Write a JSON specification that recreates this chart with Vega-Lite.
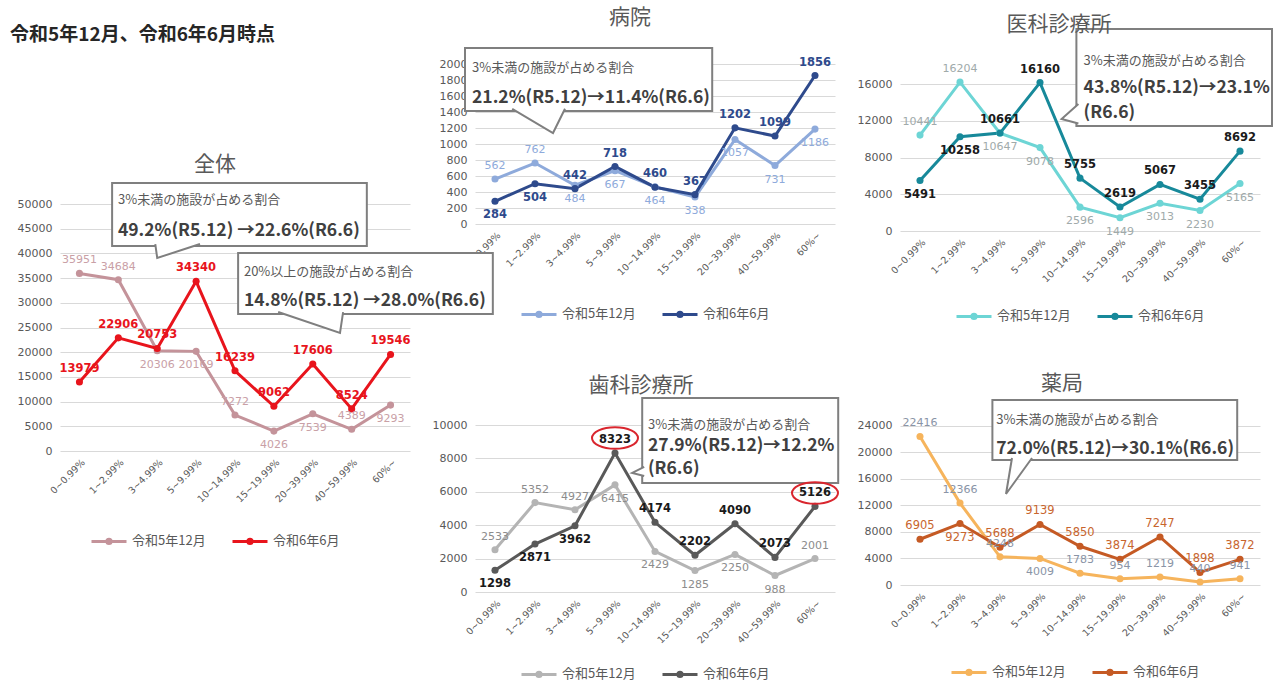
{
"$schema": "https://vega.github.io/schema/vega-lite/v6.json",
"background": "white",
"padding": {"left": 10, "top": 6, "right": 0, "bottom": 0},
"title": {"text": "令和5年12月、令和6年6月時点", "anchor": "start", "frame": "bounds", "dx": -7, "offset": -38, "fontSize": 19, "fontWeight": "bold", "color": "#262626", "font": "Noto Sans CJK JP"},
"config": {
  "view": {"stroke": null},
  "axis": {"labelFont": "DejaVu Sans", "labelColor": "#595959", "gridColor": "#d9d9d9", "domain": false, "ticks": false},
  "axisX": {"grid": false, "labelAngle": -45, "labelFontSize": 9.5, "labelPadding": 6},
  "axisY": {"labelFontSize": 11, "labelPadding": 8},
  "title": {"fontSize": 21, "fontWeight": "normal", "color": "#595959", "font": "Noto Sans CJK JP", "frame": "group", "anchor": "middle"},
  "legend": {"direction": "horizontal", "title": null, "labelFontSize": 13, "labelColor": "#595959", "labelFont": "Noto Sans CJK JP", "symbolType": "M-1,0L1,0M0.12,0A0.12,0.12,0,1,1,-0.12,0A0.12,0.12,0,1,1,0.12,0", "symbolSize": 1225, "symbolStrokeWidth": 3, "columnPadding": 20},
  "text": {"font": "DejaVu Sans"}
},
"datasets": {
  "d": [
    {"panel":"全体","cat":"0~0.99%","series":"令和5年12月","value":35951},
    {"panel":"全体","cat":"1~2.99%","series":"令和5年12月","value":34684},
    {"panel":"全体","cat":"3~4.99%","series":"令和5年12月","value":20306},
    {"panel":"全体","cat":"5~9.99%","series":"令和5年12月","value":20169},
    {"panel":"全体","cat":"10~14.99%","series":"令和5年12月","value":7272},
    {"panel":"全体","cat":"15~19.99%","series":"令和5年12月","value":4026},
    {"panel":"全体","cat":"20~39.99%","series":"令和5年12月","value":7539},
    {"panel":"全体","cat":"40~59.99%","series":"令和5年12月","value":4389},
    {"panel":"全体","cat":"60%~","series":"令和5年12月","value":9293},
    {"panel":"全体","cat":"0~0.99%","series":"令和6年6月","value":13979},
    {"panel":"全体","cat":"1~2.99%","series":"令和6年6月","value":22906},
    {"panel":"全体","cat":"3~4.99%","series":"令和6年6月","value":20753},
    {"panel":"全体","cat":"5~9.99%","series":"令和6年6月","value":34340},
    {"panel":"全体","cat":"10~14.99%","series":"令和6年6月","value":16239},
    {"panel":"全体","cat":"15~19.99%","series":"令和6年6月","value":9062},
    {"panel":"全体","cat":"20~39.99%","series":"令和6年6月","value":17606},
    {"panel":"全体","cat":"40~59.99%","series":"令和6年6月","value":8524},
    {"panel":"全体","cat":"60%~","series":"令和6年6月","value":19546},
    {"panel":"病院","cat":"0~0.99%","series":"令和5年12月","value":562},
    {"panel":"病院","cat":"1~2.99%","series":"令和5年12月","value":762},
    {"panel":"病院","cat":"3~4.99%","series":"令和5年12月","value":484},
    {"panel":"病院","cat":"5~9.99%","series":"令和5年12月","value":667},
    {"panel":"病院","cat":"10~14.99%","series":"令和5年12月","value":464},
    {"panel":"病院","cat":"15~19.99%","series":"令和5年12月","value":338},
    {"panel":"病院","cat":"20~39.99%","series":"令和5年12月","value":1057},
    {"panel":"病院","cat":"40~59.99%","series":"令和5年12月","value":731},
    {"panel":"病院","cat":"60%~","series":"令和5年12月","value":1186},
    {"panel":"病院","cat":"0~0.99%","series":"令和6年6月","value":284},
    {"panel":"病院","cat":"1~2.99%","series":"令和6年6月","value":504},
    {"panel":"病院","cat":"3~4.99%","series":"令和6年6月","value":442},
    {"panel":"病院","cat":"5~9.99%","series":"令和6年6月","value":718},
    {"panel":"病院","cat":"10~14.99%","series":"令和6年6月","value":460},
    {"panel":"病院","cat":"15~19.99%","series":"令和6年6月","value":367},
    {"panel":"病院","cat":"20~39.99%","series":"令和6年6月","value":1202},
    {"panel":"病院","cat":"40~59.99%","series":"令和6年6月","value":1099},
    {"panel":"病院","cat":"60%~","series":"令和6年6月","value":1856},
    {"panel":"医科","cat":"0~0.99%","series":"令和5年12月","value":10441},
    {"panel":"医科","cat":"1~2.99%","series":"令和5年12月","value":16204},
    {"panel":"医科","cat":"3~4.99%","series":"令和5年12月","value":10647},
    {"panel":"医科","cat":"5~9.99%","series":"令和5年12月","value":9078},
    {"panel":"医科","cat":"10~14.99%","series":"令和5年12月","value":2596},
    {"panel":"医科","cat":"15~19.99%","series":"令和5年12月","value":1449},
    {"panel":"医科","cat":"20~39.99%","series":"令和5年12月","value":3013},
    {"panel":"医科","cat":"40~59.99%","series":"令和5年12月","value":2230},
    {"panel":"医科","cat":"60%~","series":"令和5年12月","value":5165},
    {"panel":"医科","cat":"0~0.99%","series":"令和6年6月","value":5491},
    {"panel":"医科","cat":"1~2.99%","series":"令和6年6月","value":10258},
    {"panel":"医科","cat":"3~4.99%","series":"令和6年6月","value":10661},
    {"panel":"医科","cat":"5~9.99%","series":"令和6年6月","value":16160},
    {"panel":"医科","cat":"10~14.99%","series":"令和6年6月","value":5755},
    {"panel":"医科","cat":"15~19.99%","series":"令和6年6月","value":2619},
    {"panel":"医科","cat":"20~39.99%","series":"令和6年6月","value":5067},
    {"panel":"医科","cat":"40~59.99%","series":"令和6年6月","value":3455},
    {"panel":"医科","cat":"60%~","series":"令和6年6月","value":8692},
    {"panel":"歯科","cat":"0~0.99%","series":"令和5年12月","value":2533},
    {"panel":"歯科","cat":"1~2.99%","series":"令和5年12月","value":5352},
    {"panel":"歯科","cat":"3~4.99%","series":"令和5年12月","value":4927},
    {"panel":"歯科","cat":"5~9.99%","series":"令和5年12月","value":6415},
    {"panel":"歯科","cat":"10~14.99%","series":"令和5年12月","value":2429},
    {"panel":"歯科","cat":"15~19.99%","series":"令和5年12月","value":1285},
    {"panel":"歯科","cat":"20~39.99%","series":"令和5年12月","value":2250},
    {"panel":"歯科","cat":"40~59.99%","series":"令和5年12月","value":988},
    {"panel":"歯科","cat":"60%~","series":"令和5年12月","value":2001},
    {"panel":"歯科","cat":"0~0.99%","series":"令和6年6月","value":1298},
    {"panel":"歯科","cat":"1~2.99%","series":"令和6年6月","value":2871},
    {"panel":"歯科","cat":"3~4.99%","series":"令和6年6月","value":3962},
    {"panel":"歯科","cat":"5~9.99%","series":"令和6年6月","value":8323},
    {"panel":"歯科","cat":"10~14.99%","series":"令和6年6月","value":4174},
    {"panel":"歯科","cat":"15~19.99%","series":"令和6年6月","value":2202},
    {"panel":"歯科","cat":"20~39.99%","series":"令和6年6月","value":4090},
    {"panel":"歯科","cat":"40~59.99%","series":"令和6年6月","value":2073},
    {"panel":"歯科","cat":"60%~","series":"令和6年6月","value":5126},
    {"panel":"薬局","cat":"0~0.99%","series":"令和5年12月","value":22416},
    {"panel":"薬局","cat":"1~2.99%","series":"令和5年12月","value":12366},
    {"panel":"薬局","cat":"3~4.99%","series":"令和5年12月","value":4248},
    {"panel":"薬局","cat":"5~9.99%","series":"令和5年12月","value":4009},
    {"panel":"薬局","cat":"10~14.99%","series":"令和5年12月","value":1783},
    {"panel":"薬局","cat":"15~19.99%","series":"令和5年12月","value":954},
    {"panel":"薬局","cat":"20~39.99%","series":"令和5年12月","value":1219},
    {"panel":"薬局","cat":"40~59.99%","series":"令和5年12月","value":440},
    {"panel":"薬局","cat":"60%~","series":"令和5年12月","value":941},
    {"panel":"薬局","cat":"0~0.99%","series":"令和6年6月","value":6905},
    {"panel":"薬局","cat":"1~2.99%","series":"令和6年6月","value":9273},
    {"panel":"薬局","cat":"3~4.99%","series":"令和6年6月","value":5688},
    {"panel":"薬局","cat":"5~9.99%","series":"令和6年6月","value":9139},
    {"panel":"薬局","cat":"10~14.99%","series":"令和6年6月","value":5850},
    {"panel":"薬局","cat":"15~19.99%","series":"令和6年6月","value":3874},
    {"panel":"薬局","cat":"20~39.99%","series":"令和6年6月","value":7247},
    {"panel":"薬局","cat":"40~59.99%","series":"令和6年6月","value":1898},
    {"panel":"薬局","cat":"60%~","series":"令和6年6月","value":3872}
  ],
  "box": [
    {"panel":"全体","x1":0.84,"x2":7.39,"value":54250,"value2":41500},
    {"panel":"全体","x1":4.08,"x2":10.63,"value":40080,"value2":27730},
    {"panel":"病院","x1":-0.75,"x2":5.43,"value":2200,"value2":1412},
    {"panel":"医科","x1":3.91,"x2":8.8,"value":21990,"value2":11430},
    {"panel":"歯科","x1":3.68,"x2":8.58,"value":11620,"value2":6530},
    {"panel":"薬局","x1":1.81,"x2":7.93,"value":27930,"value2":18870}
  ],
  "tail": [
    {"panel":"全体","tid":1,"seq":1,"x":1.95,"value":41900},
    {"panel":"全体","tid":1,"seq":2,"x":2.0,"value":39070},
    {"panel":"全体","tid":1,"seq":3,"x":3.1,"value":41900},
    {"panel":"全体","tid":2,"seq":1,"x":5.11,"value":28130},
    {"panel":"全体","tid":2,"seq":2,"x":6.7,"value":23890},
    {"panel":"全体","tid":2,"seq":3,"x":6.78,"value":28130},
    {"panel":"病院","tid":1,"seq":1,"x":0.43,"value":1440},
    {"panel":"病院","tid":1,"seq":2,"x":1.45,"value":1137},
    {"panel":"病院","tid":1,"seq":3,"x":1.75,"value":1440},
    {"panel":"医科","tid":1,"seq":1,"x":3.96,"value":13820},
    {"panel":"医科","tid":1,"seq":2,"x":3.54,"value":12190},
    {"panel":"医科","tid":1,"seq":3,"x":3.96,"value":11700},
    {"panel":"歯科","tid":1,"seq":1,"x":3.73,"value":7490},
    {"panel":"歯科","tid":1,"seq":2,"x":3.43,"value":7130},
    {"panel":"歯科","tid":1,"seq":3,"x":3.73,"value":6950},
    {"panel":"薬局","tid":1,"seq":1,"x":2.3,"value":19170},
    {"panel":"薬局","tid":1,"seq":2,"x":2.15,"value":13740},
    {"panel":"薬局","tid":1,"seq":3,"x":2.8,"value":19170}
  ],
  "note": [
    {"panel":"全体","kind":"head","x":0.99,"value":50810,"text":"3%未満の施設が占める割合"},
    {"panel":"全体","kind":"main","x":0.99,"value":44534,"text":"49.2%(R5.12) →22.6%(R6.6)"},
    {"panel":"全体","kind":"head","x":4.23,"value":36235,"text":"20%以上の施設が占める割合"},
    {"panel":"全体","kind":"main","x":4.23,"value":30364,"text":"14.8%(R5.12) →28.0%(R6.6)"},
    {"panel":"病院","kind":"head","x":-0.575,"value":1950,"text":"3%未満の施設が占める割合"},
    {"panel":"病院","kind":"main","x":-0.575,"value":1575,"text":"21.2%(R5.12)→11.4%(R6.6)"},
    {"panel":"医科","kind":"head","x":4.09,"value":18503,"text":"3%未満の施設が占める割合"},
    {"panel":"医科","kind":"main","x":4.09,"value":15565,"text":"43.8%(R5.12)→23.1%"},
    {"panel":"医科","kind":"main","x":4.09,"value":12843,"text":"(R6.6)"},
    {"panel":"歯科","kind":"head","x":3.825,"value":10000,"text":"3%未満の施設が占める割合"},
    {"panel":"歯科","kind":"main","x":3.825,"value":8743,"text":"27.9%(R5.12)→12.2%"},
    {"panel":"歯科","kind":"main","x":3.825,"value":7365,"text":"(R6.6)"},
    {"panel":"薬局","kind":"head","x":1.905,"value":24906,"text":"3%未満の施設が占める割合"},
    {"panel":"薬局","kind":"main","x":1.905,"value":20528,"text":"72.0%(R5.12)→30.1%(R6.6)"}
  ],
  "ring": [
    {"panel":"歯科","x":3,"value":9222},
    {"panel":"歯科","x":8,"value":5928}
  ]
},
"columns": 3,
"align": "none",
"bounds": "flush",
"spacing": {"row": -27, "column": 65},
"resolve": {"scale": {"color": "independent"}, "legend": {"color": "independent"}},
"concat": [
  {
    "width": 350, "height": 10,
    "data": {"values": []},
    "mark": "point"
  },
  {
    "width": 360, "height": 160,
    "title": {"text": "病院", "dx": -25, "offset": 19},
    "encoding": {"y": {"field": "value", "type": "quantitative", "title": null, "scale": {"domain": [0, 2000], "nice": false}, "axis": {"format": "d", "values": [0,200,400,600,800,1000,1200,1400,1600,1800,2000]}}},
    "resolve": {"scale": {"x": "independent"}},
    "layer": [
      {
        "data": {"name": "d"},
        "transform": [{"filter": "datum.panel === '病院'"}],
        "encoding": {"x": {"field": "cat", "type": "ordinal", "title": null, "scale": {"type": "point", "padding": 0.5, "domain": ["0~0.99%","1~2.99%","3~4.99%","5~9.99%","10~14.99%","15~19.99%","20~39.99%","40~59.99%","60%~"]}}},
        "layer": [
          {"mark": {"type": "line", "strokeWidth": 3, "point": {"filled": true, "size": 50}},
           "encoding": {"color": {"field": "series", "type": "nominal", "scale": {"domain": ["令和5年12月","令和6年6月"], "range": ["#8eaadb","#2e4a8c"]}, "legend": {"orient": "none", "legendX": 45, "legendY": 231}}}},
          {"transform": [{"filter": "datum.series === '令和5年12月' && indexof(['0~0.99%','1~2.99%'], datum.cat) >= 0"}],
           "mark": {"type": "text", "dy": -13, "fontSize": 11, "color": "#8eaadb"}, "encoding": {"text": {"field": "value", "type": "quantitative", "format": "d"}}},
          {"transform": [{"filter": "datum.series === '令和5年12月' && indexof(['0~0.99%','1~2.99%'], datum.cat) < 0"}],
           "mark": {"type": "text", "dy": 14, "fontSize": 11, "color": "#8eaadb"}, "encoding": {"text": {"field": "value", "type": "quantitative", "format": "d"}}},
          {"transform": [{"filter": "datum.series === '令和6年6月' && indexof(['0~0.99%','1~2.99%'], datum.cat) < 0"}],
           "mark": {"type": "text", "dy": -13, "fontSize": 11.5, "fontWeight": "bold", "color": "#2e4a8c"}, "encoding": {"text": {"field": "value", "type": "quantitative", "format": "d"}}},
          {"transform": [{"filter": "datum.series === '令和6年6月' && indexof(['0~0.99%','1~2.99%'], datum.cat) >= 0"}],
           "mark": {"type": "text", "dy": 14, "fontSize": 11.5, "fontWeight": "bold", "color": "#2e4a8c"}, "encoding": {"text": {"field": "value", "type": "quantitative", "format": "d"}}}
        ]
      },
      {"data": {"name": "box"}, "transform": [{"filter": "datum.panel === '病院'"}],
       "mark": {"type": "rect", "fill": "white", "stroke": "#7f7f7f", "strokeWidth": 2},
       "encoding": {"x": {"field": "x1", "type": "quantitative", "scale": {"domain": [-0.5, 8.5], "nice": false, "zero": false}, "axis": null}, "x2": {"field": "x2"}, "y2": {"field": "value2"}}},
      {"data": {"name": "tail"}, "transform": [{"filter": "datum.panel === '病院'"}],
       "mark": {"type": "line", "fill": "white", "stroke": "#7f7f7f", "strokeWidth": 2},
       "encoding": {"x": {"field": "x", "type": "quantitative", "scale": {"domain": [-0.5, 8.5], "nice": false, "zero": false}, "axis": null}, "detail": {"field": "tid"}, "order": {"field": "seq"}}},
      {"data": {"name": "note"}, "transform": [{"filter": "datum.panel === '病院' && datum.kind === 'head'"}],
       "mark": {"type": "text", "align": "left", "font": "Noto Sans CJK JP", "fontSize": 13, "color": "#595959"},
       "encoding": {"x": {"field": "x", "type": "quantitative", "scale": {"domain": [-0.5, 8.5], "nice": false, "zero": false}, "axis": null}, "text": {"field": "text"}}},
      {"data": {"name": "note"}, "transform": [{"filter": "datum.panel === '病院' && datum.kind === 'main'"}],
       "mark": {"type": "text", "align": "left", "font": "Noto Sans CJK JP", "fontSize": 17.5, "fontWeight": "bold", "color": "#404040"},
       "encoding": {"x": {"field": "x", "type": "quantitative", "scale": {"domain": [-0.5, 8.5], "nice": false, "zero": false}, "axis": null}, "text": {"field": "text"}}}
    ]
  },
  {
    "width": 360, "height": 167,
    "title": {"text": "医科診療所", "dx": -21, "offset": -7},
    "encoding": {"y": {"field": "value", "type": "quantitative", "title": null, "scale": {"domain": [0, 18180], "nice": false}, "axis": {"format": "d", "values": [0,4000,8000,12000,16000]}}},
    "resolve": {"scale": {"x": "independent"}},
    "layer": [
      {
        "data": {"name": "d"},
        "transform": [{"filter": "datum.panel === '医科'"}],
        "encoding": {"x": {"field": "cat", "type": "ordinal", "title": null, "scale": {"type": "point", "padding": 0.5, "domain": ["0~0.99%","1~2.99%","3~4.99%","5~9.99%","10~14.99%","15~19.99%","20~39.99%","40~59.99%","60%~"]}}},
        "layer": [
          {"mark": {"type": "line", "strokeWidth": 3, "point": {"filled": true, "size": 50}},
           "encoding": {"color": {"field": "series", "type": "nominal", "scale": {"domain": ["令和5年12月","令和6年6月"], "range": ["#6dd5d5","#17899a"]}, "legend": {"orient": "none", "legendX": 55, "legendY": 233}}}},
          {"transform": [{"filter": "datum.series === '令和5年12月' && indexof(['0~0.99%','1~2.99%'], datum.cat) >= 0"}],
           "mark": {"type": "text", "dy": -13, "fontSize": 11, "color": "#a0aaaa"}, "encoding": {"text": {"field": "value", "type": "quantitative", "format": "d"}}},
          {"transform": [{"filter": "datum.series === '令和5年12月' && indexof(['0~0.99%','1~2.99%'], datum.cat) < 0"}],
           "mark": {"type": "text", "dy": 14, "fontSize": 11, "color": "#a0aaaa"}, "encoding": {"text": {"field": "value", "type": "quantitative", "format": "d"}}},
          {"transform": [{"filter": "datum.series === '令和6年6月' && indexof(['0~0.99%','1~2.99%'], datum.cat) < 0"}],
           "mark": {"type": "text", "dy": -13, "fontSize": 11.5, "fontWeight": "bold", "color": "#1a1a1a"}, "encoding": {"text": {"field": "value", "type": "quantitative", "format": "d"}}},
          {"transform": [{"filter": "datum.series === '令和6年6月' && indexof(['0~0.99%','1~2.99%'], datum.cat) >= 0"}],
           "mark": {"type": "text", "dy": 14, "fontSize": 11.5, "fontWeight": "bold", "color": "#1a1a1a"}, "encoding": {"text": {"field": "value", "type": "quantitative", "format": "d"}}}
        ]
      },
      {"data": {"name": "box"}, "transform": [{"filter": "datum.panel === '医科'"}],
       "mark": {"type": "rect", "fill": "white", "stroke": "#7f7f7f", "strokeWidth": 2},
       "encoding": {"x": {"field": "x1", "type": "quantitative", "scale": {"domain": [-0.5, 8.5], "nice": false, "zero": false}, "axis": null}, "x2": {"field": "x2"}, "y2": {"field": "value2"}}},
      {"data": {"name": "tail"}, "transform": [{"filter": "datum.panel === '医科'"}],
       "mark": {"type": "line", "fill": "white", "stroke": "#7f7f7f", "strokeWidth": 2},
       "encoding": {"x": {"field": "x", "type": "quantitative", "scale": {"domain": [-0.5, 8.5], "nice": false, "zero": false}, "axis": null}, "detail": {"field": "tid"}, "order": {"field": "seq"}}},
      {"data": {"name": "note"}, "transform": [{"filter": "datum.panel === '医科' && datum.kind === 'head'"}],
       "mark": {"type": "text", "align": "left", "font": "Noto Sans CJK JP", "fontSize": 13, "color": "#595959"},
       "encoding": {"x": {"field": "x", "type": "quantitative", "scale": {"domain": [-0.5, 8.5], "nice": false, "zero": false}, "axis": null}, "text": {"field": "text"}}},
      {"data": {"name": "note"}, "transform": [{"filter": "datum.panel === '医科' && datum.kind === 'main'"}],
       "mark": {"type": "text", "align": "left", "font": "Noto Sans CJK JP", "fontSize": 17.5, "fontWeight": "bold", "color": "#404040"},
       "encoding": {"x": {"field": "x", "type": "quantitative", "scale": {"domain": [-0.5, 8.5], "nice": false, "zero": false}, "axis": null}, "text": {"field": "text"}}}
    ]
  },
  {
    "width": 350, "height": 247,
    "title": {"text": "全体", "dx": -20, "offset": 7},
    "encoding": {"y": {"field": "value", "type": "quantitative", "title": null, "scale": {"domain": [0, 50000], "nice": false}, "axis": {"format": "d", "values": [0,5000,10000,15000,20000,25000,30000,35000,40000,45000,50000]}}},
    "resolve": {"scale": {"x": "independent"}},
    "layer": [
      {
        "data": {"name": "d"},
        "transform": [{"filter": "datum.panel === '全体'"}],
        "encoding": {"x": {"field": "cat", "type": "ordinal", "title": null, "scale": {"type": "point", "padding": 0.5, "domain": ["0~0.99%","1~2.99%","3~4.99%","5~9.99%","10~14.99%","15~19.99%","20~39.99%","40~59.99%","60%~"]}}},
        "layer": [
          {"mark": {"type": "line", "strokeWidth": 3, "point": {"filled": true, "size": 50}},
           "encoding": {"color": {"field": "series", "type": "nominal", "scale": {"domain": ["令和5年12月","令和6年6月"], "range": ["#c4939a","#e8141c"]}, "legend": {"orient": "none", "legendX": 30, "legendY": 318}}}},
          {"transform": [{"filter": "datum.series === '令和5年12月' && indexof(['3~4.99%','5~9.99%','15~19.99%','20~39.99%','60%~'], datum.cat) < 0"}],
           "mark": {"type": "text", "dy": -13, "fontSize": 11, "color": "#c9a0a6"}, "encoding": {"text": {"field": "value", "type": "quantitative", "format": "d"}}},
          {"transform": [{"filter": "datum.series === '令和5年12月' && indexof(['3~4.99%','5~9.99%','15~19.99%','20~39.99%','60%~'], datum.cat) >= 0"}],
           "mark": {"type": "text", "dy": 14, "fontSize": 11, "color": "#c9a0a6"}, "encoding": {"text": {"field": "value", "type": "quantitative", "format": "d"}}},
          {"transform": [{"filter": "datum.series === '令和6年6月'"}],
           "mark": {"type": "text", "dy": -13, "fontSize": 11.5, "fontWeight": "bold", "color": "#e8141c"}, "encoding": {"text": {"field": "value", "type": "quantitative", "format": "d"}}}
        ]
      },
      {"data": {"name": "box"}, "transform": [{"filter": "datum.panel === '全体'"}],
       "mark": {"type": "rect", "fill": "white", "stroke": "#7f7f7f", "strokeWidth": 2},
       "encoding": {"x": {"field": "x1", "type": "quantitative", "scale": {"domain": [-0.5, 8.5], "nice": false, "zero": false}, "axis": null}, "x2": {"field": "x2"}, "y2": {"field": "value2"}}},
      {"data": {"name": "tail"}, "transform": [{"filter": "datum.panel === '全体'"}],
       "mark": {"type": "line", "fill": "white", "stroke": "#7f7f7f", "strokeWidth": 2},
       "encoding": {"x": {"field": "x", "type": "quantitative", "scale": {"domain": [-0.5, 8.5], "nice": false, "zero": false}, "axis": null}, "detail": {"field": "tid"}, "order": {"field": "seq"}}},
      {"data": {"name": "note"}, "transform": [{"filter": "datum.panel === '全体' && datum.kind === 'head'"}],
       "mark": {"type": "text", "align": "left", "font": "Noto Sans CJK JP", "fontSize": 13, "color": "#595959"},
       "encoding": {"x": {"field": "x", "type": "quantitative", "scale": {"domain": [-0.5, 8.5], "nice": false, "zero": false}, "axis": null}, "text": {"field": "text"}}},
      {"data": {"name": "note"}, "transform": [{"filter": "datum.panel === '全体' && datum.kind === 'main'"}],
       "mark": {"type": "text", "align": "left", "font": "Noto Sans CJK JP", "fontSize": 17.5, "fontWeight": "bold", "color": "#404040"},
       "encoding": {"x": {"field": "x", "type": "quantitative", "scale": {"domain": [-0.5, 8.5], "nice": false, "zero": false}, "axis": null}, "text": {"field": "text"}}}
    ]
  },
  {
    "width": 360, "height": 388,
    "title": {"text": "歯科診療所", "dx": -14, "offset": -192},
    "encoding": {"y": {"field": "value", "type": "quantitative", "title": null, "scale": {"domain": [0, 23234], "nice": false}, "axis": {"format": "d", "values": [0,2000,4000,6000,8000,10000]}}},
    "resolve": {"scale": {"x": "independent"}},
    "layer": [
      {
        "data": {"name": "d"},
        "transform": [{"filter": "datum.panel === '歯科'"}],
        "encoding": {"x": {"field": "cat", "type": "ordinal", "title": null, "scale": {"type": "point", "padding": 0.5, "domain": ["0~0.99%","1~2.99%","3~4.99%","5~9.99%","10~14.99%","15~19.99%","20~39.99%","40~59.99%","60%~"]}}},
        "layer": [
          {"mark": {"type": "line", "strokeWidth": 3, "point": {"filled": true, "size": 50}},
           "encoding": {"color": {"field": "series", "type": "nominal", "scale": {"domain": ["令和5年12月","令和6年6月"], "range": ["#b4b4b4","#595959"]}, "legend": {"orient": "none", "legendX": 45, "legendY": 451}}}},
          {"transform": [{"filter": "datum.series === '令和5年12月' && indexof(['5~9.99%','10~14.99%','15~19.99%','20~39.99%','40~59.99%'], datum.cat) < 0"}],
           "mark": {"type": "text", "dy": -13, "fontSize": 11, "color": "#8c8c8c"}, "encoding": {"text": {"field": "value", "type": "quantitative", "format": "d"}}},
          {"transform": [{"filter": "datum.series === '令和5年12月' && indexof(['5~9.99%','10~14.99%','15~19.99%','20~39.99%','40~59.99%'], datum.cat) >= 0"}],
           "mark": {"type": "text", "dy": 14, "fontSize": 11, "color": "#8c8c8c"}, "encoding": {"text": {"field": "value", "type": "quantitative", "format": "d"}}},
          {"transform": [{"filter": "datum.series === '令和6年6月' && indexof(['0~0.99%','1~2.99%','3~4.99%'], datum.cat) < 0"}],
           "mark": {"type": "text", "dy": -13, "fontSize": 11.5, "fontWeight": "bold", "color": "#1a1a1a"}, "encoding": {"text": {"field": "value", "type": "quantitative", "format": "d"}}},
          {"transform": [{"filter": "datum.series === '令和6年6月' && indexof(['0~0.99%','1~2.99%','3~4.99%'], datum.cat) >= 0"}],
           "mark": {"type": "text", "dy": 14, "fontSize": 11.5, "fontWeight": "bold", "color": "#1a1a1a"}, "encoding": {"text": {"field": "value", "type": "quantitative", "format": "d"}}}
        ]
      },
      {"data": {"name": "box"}, "transform": [{"filter": "datum.panel === '歯科'"}],
       "mark": {"type": "rect", "fill": "white", "stroke": "#7f7f7f", "strokeWidth": 2},
       "encoding": {"x": {"field": "x1", "type": "quantitative", "scale": {"domain": [-0.5, 8.5], "nice": false, "zero": false}, "axis": null}, "x2": {"field": "x2"}, "y2": {"field": "value2"}}},
      {"data": {"name": "tail"}, "transform": [{"filter": "datum.panel === '歯科'"}],
       "mark": {"type": "line", "fill": "white", "stroke": "#7f7f7f", "strokeWidth": 2},
       "encoding": {"x": {"field": "x", "type": "quantitative", "scale": {"domain": [-0.5, 8.5], "nice": false, "zero": false}, "axis": null}, "detail": {"field": "tid"}, "order": {"field": "seq"}}},
      {"data": {"name": "note"}, "transform": [{"filter": "datum.panel === '歯科' && datum.kind === 'head'"}],
       "mark": {"type": "text", "align": "left", "font": "Noto Sans CJK JP", "fontSize": 13, "color": "#595959"},
       "encoding": {"x": {"field": "x", "type": "quantitative", "scale": {"domain": [-0.5, 8.5], "nice": false, "zero": false}, "axis": null}, "text": {"field": "text"}}},
      {"data": {"name": "note"}, "transform": [{"filter": "datum.panel === '歯科' && datum.kind === 'main'"}],
       "mark": {"type": "text", "align": "left", "font": "Noto Sans CJK JP", "fontSize": 17.5, "fontWeight": "bold", "color": "#404040"},
       "encoding": {"x": {"field": "x", "type": "quantitative", "scale": {"domain": [-0.5, 8.5], "nice": false, "zero": false}, "axis": null}, "text": {"field": "text"}}},
      {"data": {"name": "ring"}, "transform": [{"filter": "datum.panel === '歯科'"}],
       "mark": {"type": "point", "shape": "M-1,0A1,0.47,0,1,1,1,0A1,0.47,0,1,1,-1,0", "size": 2116, "filled": false, "stroke": "#d9262e", "strokeWidth": 2, "opacity": 1},
       "encoding": {"x": {"field": "x", "type": "quantitative", "scale": {"domain": [-0.5, 8.5], "nice": false, "zero": false}, "axis": null}}}
    ]
  },
  {
    "width": 360, "height": 381,
    "title": {"text": "薬局", "dx": -18, "offset": -190},
    "encoding": {"y": {"field": "value", "type": "quantitative", "title": null, "scale": {"domain": [0, 57509], "nice": false}, "axis": {"format": "d", "values": [0,4000,8000,12000,16000,20000,24000]}}},
    "resolve": {"scale": {"x": "independent"}},
    "layer": [
      {
        "data": {"name": "d"},
        "transform": [{"filter": "datum.panel === '薬局'"}],
        "encoding": {"x": {"field": "cat", "type": "ordinal", "title": null, "scale": {"type": "point", "padding": 0.5, "domain": ["0~0.99%","1~2.99%","3~4.99%","5~9.99%","10~14.99%","15~19.99%","20~39.99%","40~59.99%","60%~"]}}},
        "layer": [
          {"mark": {"type": "line", "strokeWidth": 3, "point": {"filled": true, "size": 50}},
           "encoding": {"color": {"field": "series", "type": "nominal", "scale": {"domain": ["令和5年12月","令和6年6月"], "range": ["#f6b45c","#c55a24"]}, "legend": {"orient": "none", "legendX": 50, "legendY": 449}}}},
          {"transform": [{"filter": "datum.series === '令和5年12月' && datum.cat !== '5~9.99%'"}],
           "mark": {"type": "text", "dy": -13, "fontSize": 11, "color": "#8a94a6"}, "encoding": {"text": {"field": "value", "type": "quantitative", "format": "d"}}},
          {"transform": [{"filter": "datum.series === '令和5年12月' && datum.cat === '5~9.99%'"}],
           "mark": {"type": "text", "dy": 14, "fontSize": 11, "color": "#8a94a6"}, "encoding": {"text": {"field": "value", "type": "quantitative", "format": "d"}}},
          {"transform": [{"filter": "datum.series === '令和6年6月' && datum.cat !== '1~2.99%'"}],
           "mark": {"type": "text", "dy": -13, "fontSize": 11.5, "color": "#c8652e"}, "encoding": {"text": {"field": "value", "type": "quantitative", "format": "d"}}},
          {"transform": [{"filter": "datum.series === '令和6年6月' && datum.cat === '1~2.99%'"}],
           "mark": {"type": "text", "dy": 14, "fontSize": 11.5, "color": "#c8652e"}, "encoding": {"text": {"field": "value", "type": "quantitative", "format": "d"}}}
        ]
      },
      {"data": {"name": "box"}, "transform": [{"filter": "datum.panel === '薬局'"}],
       "mark": {"type": "rect", "fill": "white", "stroke": "#7f7f7f", "strokeWidth": 2},
       "encoding": {"x": {"field": "x1", "type": "quantitative", "scale": {"domain": [-0.5, 8.5], "nice": false, "zero": false}, "axis": null}, "x2": {"field": "x2"}, "y2": {"field": "value2"}}},
      {"data": {"name": "tail"}, "transform": [{"filter": "datum.panel === '薬局'"}],
       "mark": {"type": "line", "fill": "white", "stroke": "#7f7f7f", "strokeWidth": 2},
       "encoding": {"x": {"field": "x", "type": "quantitative", "scale": {"domain": [-0.5, 8.5], "nice": false, "zero": false}, "axis": null}, "detail": {"field": "tid"}, "order": {"field": "seq"}}},
      {"data": {"name": "note"}, "transform": [{"filter": "datum.panel === '薬局' && datum.kind === 'head'"}],
       "mark": {"type": "text", "align": "left", "font": "Noto Sans CJK JP", "fontSize": 13, "color": "#595959"},
       "encoding": {"x": {"field": "x", "type": "quantitative", "scale": {"domain": [-0.5, 8.5], "nice": false, "zero": false}, "axis": null}, "text": {"field": "text"}}},
      {"data": {"name": "note"}, "transform": [{"filter": "datum.panel === '薬局' && datum.kind === 'main'"}],
       "mark": {"type": "text", "align": "left", "font": "Noto Sans CJK JP", "fontSize": 17.5, "fontWeight": "bold", "color": "#404040"},
       "encoding": {"x": {"field": "x", "type": "quantitative", "scale": {"domain": [-0.5, 8.5], "nice": false, "zero": false}, "axis": null}, "text": {"field": "text"}}}
    ]
  }
]
}
